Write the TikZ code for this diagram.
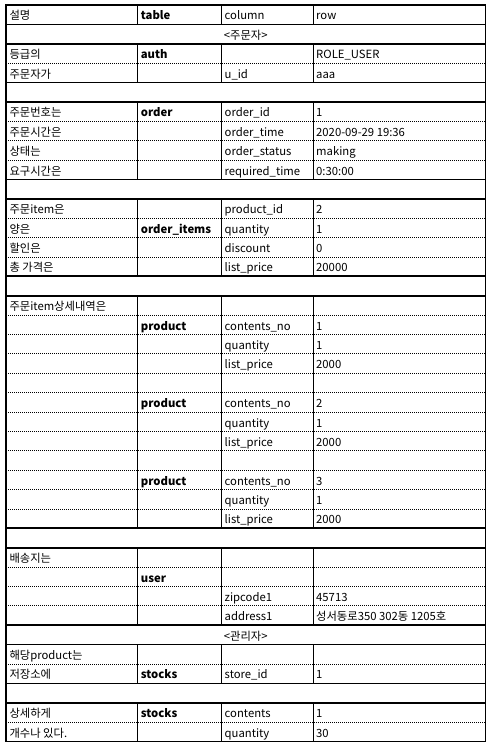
\documentclass[tikz,border=0pt]{standalone}
\usepackage{fontspec}
\setmainfont{Noto Sans CJK KR}
\usetikzlibrary{calc}

\begin{document}
\begin{tikzpicture}[x=1pt, y=-1pt,
    cell/.style={anchor=base west, inner sep=0pt, font=\fontsize{11.3}{12}\selectfont},
    col1/.style={cell}, col2/.style={cell, font=\fontsize{11.3}{12}\selectfont\bfseries},
    col3/.style={cell}, col4/.style={cell},
    banner/.style={anchor=base, inner sep=0pt, font=\fontsize{11.3}{12}\selectfont},
    sepbold/.style={line width=1.7pt},
    sepdot/.style={line width=0.8pt, dash pattern=on 1pt off 1pt},
    colrule/.style={line width=0.9pt}]
  \useasboundingbox (0,0) rectangle (491,749);
  \def\rh{19.3816}
  % column rules, only where the row is split into cells
  \foreach \a/\b in {1/1, 3/4, 6/9, 11/14, 16/27, 29/32, 34/35, 37/38}{
    \foreach \x in {137.7, 221.7, 313.3}
      \draw[colrule] (\x, {5+(\a-1)*\rh}) -- (\x, {5+\b*\rh});
  }
  % row rules
  \foreach \k/\s in {1/sepbold, 2/sepbold, 3/sepdot, 4/sepbold, 5/sepbold,
      6/sepdot, 7/sepdot, 8/sepdot, 9/sepbold, 10/sepbold,
      11/sepdot, 12/sepdot, 13/sepdot, 14/sepbold, 15/sepbold,
      16/sepdot, 17/sepdot, 18/sepdot, 19/sepdot, 20/sepdot, 21/sepdot,
      22/sepdot, 23/sepdot, 24/sepdot, 25/sepdot, 26/sepdot, 27/sepbold,
      28/sepbold, 29/sepdot, 30/sepdot, 31/sepdot, 32/sepbold, 33/sepbold,
      34/sepdot, 35/sepbold, 36/sepbold, 37/sepdot}
    \draw[\s] (6, {5+\k*\rh}) -- (485.5, {5+\k*\rh});
  \draw[line width=1.7pt] (6,5) rectangle (485.5,741.5);
  % cells: row / column / text
  \foreach \r/\c/\t in {1/1/설명, 1/2/table, 1/3/column, 1/4/row,
      3/1/등급의, 3/2/auth, 3/4/ROLE\_USER,
      4/1/주문자가, 4/3/u\_id, 4/4/aaa,
      6/1/주문번호는, 6/2/order, 6/3/order\_id, 6/4/1,
      7/1/주문시간은, 7/3/order\_time, 7/4/2020-09-29 19:36,
      8/1/상태는, 8/3/order\_status, 8/4/making,
      9/1/요구시간은, 9/3/required\_time, 9/4/0:30:00,
      11/1/주문item은, 11/3/product\_id, 11/4/2,
      12/1/양은, 12/2/order\_items, 12/3/quantity, 12/4/1,
      13/1/할인은, 13/3/discount, 13/4/0,
      14/1/총 가격은, 14/3/list\_price, 14/4/20000,
      16/1/주문item상세내역은,
      17/2/product, 17/3/contents\_no, 17/4/1,
      18/3/quantity, 18/4/1,
      19/3/list\_price, 19/4/2000,
      21/2/product, 21/3/contents\_no, 21/4/2,
      22/3/quantity, 22/4/1,
      23/3/list\_price, 23/4/2000,
      25/2/product, 25/3/contents\_no, 25/4/3,
      26/3/quantity, 26/4/1,
      27/3/list\_price, 27/4/2000,
      29/1/배송지는,
      30/2/user,
      31/3/zipcode1, 31/4/45713,
      32/3/address1, 32/4/성서동로350 302동 1205호,
      34/1/해당product는,
      35/1/저장소에, 35/2/stocks, 35/3/store\_id, 35/4/1,
      37/1/상세하게, 37/2/stocks, 37/3/contents, 37/4/1,
      38/1/개수나 있다., 38/3/quantity, 38/4/30}{
    \pgfmathsetmacro\x{{9.3,140.7,224.5,316}[\c-1]}
    \node[col\c] (c\r-\c) at (\x, {5+(\r-1)*\rh+15}) {\t};
  }
  \node[banner] (orderer) at (245.75, {5+\rh+15}) {<주문자>};
  \node[banner] (admin) at (245.75, {5+32*\rh+15}) {<관리자>};
\end{tikzpicture}
\end{document}
